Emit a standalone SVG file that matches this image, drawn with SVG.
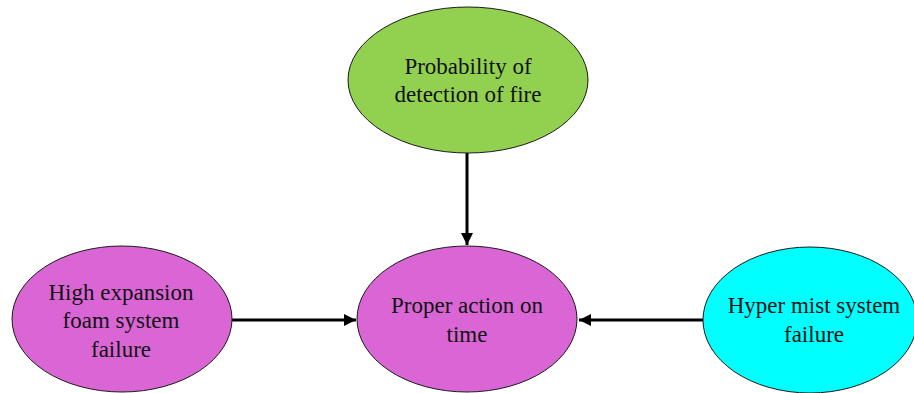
<svg xmlns="http://www.w3.org/2000/svg" width="914" height="393" viewBox="0 0 914 393">
  <style>
    .node ellipse { stroke: #1a1a1a; stroke-width: 1; }
    .green { fill: #92d050; }
    .magenta { fill: #da66d6; }
    .cyan { fill: #00ffff; }
    text { font-family: "Liberation Serif", "Times New Roman", serif; font-size: 23px; fill: #111; text-anchor: middle; }
    .edge { stroke: #000; stroke-width: 3; fill: none; marker-end: url(#arrow); }
  </style>
  <defs>
    <marker id="arrow" viewBox="0 0 10 10" refX="10" refY="5" markerWidth="4.3" markerHeight="4" markerUnits="strokeWidth" orient="auto">
      <path d="M0,0 L10,5 L0,10 z" fill="#000"/>
    </marker>
  </defs>
  <rect width="914" height="393" fill="#fff"/>

  <g id="connectors">
    <line class="edge" x1="467" y1="153" x2="467" y2="245"/>
    <line class="edge" x1="232" y1="320" x2="356" y2="320"/>
    <line class="edge" x1="703" y1="320" x2="579" y2="320"/>
  </g>

  <g id="node-detection" class="node">
    <ellipse class="green" cx="468" cy="80" rx="120" ry="73"/>
    <text x="468" y="74">Probability of</text>
    <text x="468" y="102">detection of fire</text>
  </g>

  <g id="node-foam" class="node">
    <ellipse class="magenta" cx="122" cy="319" rx="110" ry="73"/>
    <text x="121" y="300">High expansion</text>
    <text x="121" y="328">foam system</text>
    <text x="121" y="357">failure</text>
  </g>

  <g id="node-action" class="node">
    <ellipse class="magenta" cx="467" cy="319" rx="110" ry="73"/>
    <text x="467" y="313">Proper action on</text>
    <text x="467" y="342">time</text>
  </g>

  <g id="node-mist" class="node">
    <ellipse class="cyan" cx="810" cy="320" rx="107" ry="73"/>
    <text x="814" y="313">Hyper mist system</text>
    <text x="814" y="342">failure</text>
  </g>
</svg>
